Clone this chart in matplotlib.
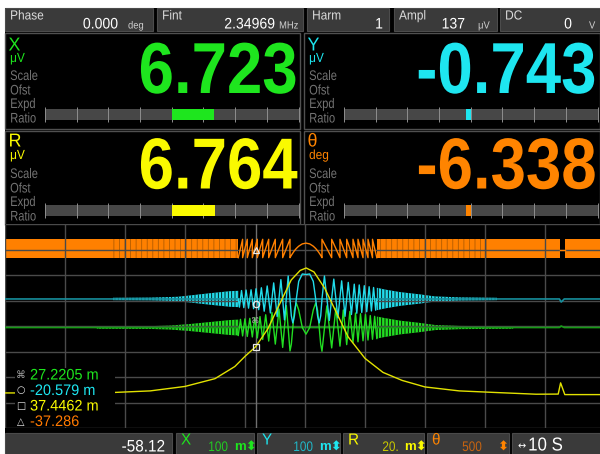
import numpy as np
import matplotlib
matplotlib.use('Agg')
import matplotlib.pyplot as plt
from matplotlib.patches import Rectangle
from matplotlib.patheffects import AbstractPathEffect
from matplotlib.transforms import Affine2D

# ---------------- instrument readings ----------------
header_labels = ['Phase', 'Fint', 'Harm', 'Ampl', 'DC']
header_values = ['0.000', '2.34969', '1', '137', '0']
header_units = ['deg', 'MHz', '', 'μV', 'V']

channel_names = ['X', 'Y', 'R', 'θ']
channel_units = ['μV', 'μV', 'μV', 'deg']
channel_values = [6.723, -0.743, 6.764, -6.338]
bar_fullscale = [20.0, 20.0, 20.0, 180.0]
panel_rows = ['Scale', 'Ofst', 'Expd', 'Ratio']

# strip chart scales (per division) and cursor readouts
trace_scale = [100.0, 100.0, 20.0, 500.0]
trace_scale_text = ['100', '100', '20.', '500']
trace_scale_unit = ['m', 'm', 'm', '']
cursor_time = 41.75
cursor_values = [27.2205, -20.579, 37.4462, -37.286]
cursor_labels = ['27.2205 m', '-20.579 m', '37.4462 m', '-37.286']
left_readout = '-58.12'
time_scale = '10 S'

# R trace, time in s, value in m
r_time = [0, 1.7, 18.3, 24.2, 30.0, 35.0, 38.3, 40.0, 41.75, 43.8, 45.7, 47.7, 49.2, 50.2,
          51.5, 53.3, 55.3, 57.2, 60.0, 63.0, 66.2, 70.0, 75.7, 82.0, 88.5, 92.2, 92.6, 93.3, 100]
r_value = [1.3, 1.3, 1.7, 2.9, 6.4, 12.5, 22.0, 30.0, 37.4, 51.5, 70.3, 89.9, 97.4, 99.3,
           96.2, 83.3, 63.7, 45.2, 28.4, 17.4, 11.1, 6.0, 2.9, 1.6, 0.3, 0.4, 9.2, 0.0, 0.0]

# X and Y: resolvable swings near the resonance (s, m)
x_swings = [(38.88, -31), (39.24, 32), (39.6, -33), (39.99, 34), (40.38, -35), (40.8, 36),
            (41.22, -37), (41.63, 39), (42.05, -41), (42.5, 43), (42.95, -47), (43.45, 50),
            (43.95, -53), (44.5, 59), (45.05, -65), (45.67, 72), (46.28, -78), (46.89, 86),
            (47.5, -92), (47.72, -66), (47.97, 0), (48.23, 67), (48.55, 96), (48.95, 69),
            (49.55, 0), (50.17, -26), (50.78, 0), (51.38, 69), (51.78, 96), (52.1, 67),
            (52.37, 0), (52.62, -66), (52.83, -93), (53.64, 85), (54.45, -80), (55.14, 76),
            (55.83, -73), (56.39, 69), (56.95, -67), (57.48, 63), (58.0, -59), (58.42, 57),
            (58.83, -56), (59.25, 54), (59.67, -52), (60.08, 51), (60.5, -49), (60.88, 47),
            (61.25, -46), (61.61, 44), (61.97, -43)]
y_swings = [(38.88, 0), (39.07, -32), (39.42, 33), (39.8, -34), (40.18, 35), (40.59, -36),
            (41.01, 36), (41.43, -38), (41.84, 40), (42.28, -42), (42.73, 44), (43.2, -48),
            (43.7, 51), (44.23, -55), (44.78, 63), (45.36, -69), (45.98, 76), (46.58, -82),
            (47.2, 90), (47.5, 0), (47.72, -66), (47.97, -94), (48.23, -67), (48.55, 0),
            (48.95, 69), (49.55, 98), (50.17, 96), (50.78, 98), (51.38, 69), (51.78, 0),
            (52.1, -67), (52.37, -94), (52.62, -66), (52.83, 0), (53.24, 90), (54.05, -84),
            (54.8, 78), (55.48, -74), (56.11, 71), (56.67, -68), (57.21, 65), (57.74, -61),
            (58.21, 58), (58.63, -56), (59.04, 55), (59.46, -53), (59.88, 52), (60.29, -50),
            (60.69, 48), (61.07, -47), (61.43, 45), (61.78, -44), (61.97, 0)]

# X and Y: envelope of the unresolved fast swings (s, m half-amplitude)
x_env_left_t = [15.3, 24.2, 27.5, 30.8, 34.2, 37.5, 38.88]
x_env_left = [4.7, 5.5, 7.8, 13.7, 21.6, 29.4, 31.0]
y_env_left_t = [18.0, 24.2, 28.8, 30.8, 34.2, 37.5, 38.88]
y_env_left = [4.7, 5.5, 8.6, 13.7, 22.7, 30.6, 32.0]
x_env_right_t = [61.97, 63.33, 65.83, 69.17, 71.67, 75.83, 84.7]
x_env_right = [43.0, 37.0, 27.0, 18.0, 10.0, 6.3, 4.7]
y_env_right_t = [61.97, 63.33, 65.83, 69.17, 71.67, 75.83, 82.0]
y_env_right = [44.0, 37.0, 27.0, 18.0, 10.0, 6.3, 4.7]

# quiet baseline of X and Y (s, m)
base_time = [0, 92.4, 92.7, 93.2, 100]
x_base = [0, 0, 6, 0, 0]
y_base = [0, 0, -12, 0, 0]

# theta: wrapped phase near resonance (s, deg)
theta_pts = [(38.88, -180), (39.6, 180), (39.6, -180), (40.38, 180), (40.38, -180),
             (41.22, 180), (41.22, -180), (42.05, 180), (42.05, -180), (42.95, 180),
             (42.95, -180), (43.95, 180), (43.95, -180), (45.05, 180), (45.05, -180),
             (46.28, 180), (46.28, -180), (47.5, 180), (47.5, -180), (47.72, -135),
             (47.97, -90), (48.23, -45), (48.55, 0), (48.95, 45), (49.55, 90), (50.17, 105),
             (50.78, 90), (51.38, 45), (51.78, 0), (52.1, -45), (52.37, -90), (52.62, -135),
             (52.83, -180), (52.83, 180), (54.45, -180), (54.45, 180), (55.83, -180),
             (55.83, 180), (56.95, -180), (56.95, 180), (58.0, -180), (58.0, 180),
             (58.83, -180), (58.83, 180), (59.67, -180), (59.67, 180), (60.5, -180),
             (60.5, 180), (61.25, -180), (61.25, 180), (61.97, -180)]
theta_solid_spans = [(0.0, 18.0), (80.3, 92.5), (93.4, 100.0)]
theta_busy_spans = [(18.0, 38.88), (61.97, 80.3)]
theta_gap_time = [92.5, 93.4]
theta_gap_deg = [-30, -30]

# ---------------- style ----------------
GREEN, CYAN, YELLOW, ORANGE = '#1ee61e', '#1ee6f0', '#fafa00', '#ff8400'
colors = [GREEN, CYAN, YELLOW, ORANGE]
trace_colors = ['#22dd22', '#22dcea', '#e2e200', '#ff8000']
dim_colors = ['#179a17', '#168e9c']
SANS = ['Liberation Sans', 'DejaVu Sans']
zero_div = [3.94, 5.06, 1.31, 7.04]
plt.rcParams['hatch.linewidth'] = 0.6


class Squeeze(AbstractPathEffect):
    """Narrow the glyphs horizontally, keeping one edge in place."""

    def __init__(self, sx=0.9, side='left'):
        super().__init__()
        self.sx = sx
        self.side = side

    def draw_path(self, renderer, gc, tpath, affine, rgbFace=None):
        ext = tpath.get_extents(affine)
        x0 = ext.x1 if self.side == 'right' else ext.x0
        squash = Affine2D().translate(-x0, 0).scale(self.sx, 1).translate(x0, 0)
        renderer.draw_path(gc, tpath, affine + squash, rgbFace)


W, H = 600, 454
fig = plt.figure(figsize=(6, 4.54), dpi=100)
fig.patch.set_facecolor('white')

bg = fig.add_axes([0, 0, 1, 1])
bg.set_xlim(0, W)
bg.set_ylim(H, 0)
bg.axis('off')
fg = fig.add_axes([0, 0, 1, 1], zorder=5)
fg.set_xlim(0, W)
fg.set_ylim(H, 0)
fg.axis('off')


def put(x, y, s, size, color, ha='left', sx=0.9, weight='normal', family=SANS, va='baseline'):
    pe = [Squeeze(sx, ha)] if sx != 1 else []
    fg.text(x, y, s, fontsize=size, color=color, ha=ha, va=va, fontweight=weight,
            family=family, path_effects=pe)


def box(ax, x, y, w, h, fc, ec='none', lw=0):
    ax.add_patch(Rectangle((x, y), w, h, facecolor=fc, edgecolor=ec, lw=lw))


# screen
box(bg, 5, 8, 595, 446, 'black')

# header strip
head_cells = [(5, 153), (157, 303), (307, 389), (394, 497), (500, 600)]
head_val_right = [118, 275, 383, 465, 572]
head_unit_left = [128, 279, 0, 478, 589]
for i, (a, b) in enumerate(head_cells):
    box(bg, a, 8, b - a, 23, '#3a3a3a', '#4c4c4c', 0.8)
    put(a + 5, 19.5, header_labels[i], 9.5, '#dcdcdc', sx=0.9)
    put(head_val_right[i], 28.5, header_values[i], 11, 'white', ha='right', sx=0.92)
    if header_units[i]:
        put(head_unit_left[i], 28.5, header_units[i], 7.5, '#d0d0d0', sx=0.9)

# channel panels
panel_left = [5, 304, 5, 304]
panel_top = [33, 33, 131, 131]
panel_w = [295, 296, 295, 296]
panel_h = [96, 96, 94, 94]
name_base = [50.5, 50.5, 146.5, 146.5]
unit_base = [62, 62, 159, 159]
number_base = [93, 93, 188.5, 188.5]
bar_top = [109, 109, 205, 205]
for i in range(4):
    L, T = panel_left[i], panel_top[i]
    box(bg, L, T, panel_w[i], panel_h[i], 'black', '#505050', 1.0)
    put(L + 3.5, name_base[i], channel_names[i], 13.5, colors[i], sx=0.95)
    put(L + 5, unit_base[i], channel_units[i], 9.5, colors[i], sx=0.9)
    for k, row in enumerate(panel_rows):
        put(L + 5, T + [47, 61.5, 75, 89.5][k], row, 10, '#737373', sx=0.8)
    put(L + 293, number_base[i], f'{channel_values[i]:.3f}', 52, colors[i],
        ha='right', sx=0.88, weight='bold')

    # deviation bar
    x0, x1 = L + 40, L + 293.5
    bax = fig.add_axes([x0 / W, (H - bar_top[i] - 11) / H, (x1 - x0) / W, 11 / H], zorder=2)
    fs = bar_fullscale[i]
    bax.set_xlim(-fs, fs)
    bax.set_ylim(0, 1)
    bax.set_facecolor('#474747')
    for s in bax.spines.values():
        s.set_visible(False)
    bax.set_xticks([])
    bax.set_yticks([])
    bax.vlines(np.linspace(-fs, fs, 9), -0.2, 1.2, colors='#8e8e8e', lw=0.7, clip_on=False)
    bax.barh(0.5, channel_values[i], height=1.0, left=0, color=colors[i], zorder=3)

# strip chart
ax = fig.add_axes([5 / W, (H - 428) / H, 600 / W, 204 / H], zorder=2)
ax.set_xlim(0, 100)
ax.set_ylim(0, 8)
ax.set_facecolor('black')
for s in ax.spines.values():
    s.set_visible(False)
ax.set_xticks([])
ax.set_yticks([])
ax.vlines(np.arange(0, 101, 10), 0, 8, colors='#4a4a4a', lw=1)
ax.hlines(np.arange(0, 9), 0, 100, colors='#4a4a4a', lw=1)
ax.axvline(cursor_time, color='#707070', lw=1)


def lev(ch, v):
    return zero_div[ch] + np.asarray(v, float) / trace_scale[ch]


# theta
for a, b in theta_solid_spans:
    ax.fill_between([a, b], lev(3, -180), lev(3, 180), color=trace_colors[3], lw=0)
for a, b in theta_busy_spans:
    ax.fill_between([a, b], lev(3, -180), lev(3, 180), facecolor=trace_colors[3],
                    edgecolor='#b35c00', hatch='|||', lw=0)
th_t, th_v = np.array(theta_pts, float).T
ax.plot(th_t, lev(3, th_v), color=trace_colors[3], lw=1.0)
ax.plot(theta_gap_time, lev(3, theta_gap_deg), color=trace_colors[3], lw=1.0)

# X then Y
for ch, base, swings, envs in [
        (0, x_base, x_swings, [(x_env_left_t, x_env_left), (x_env_right_t, x_env_right)]),
        (1, y_base, y_swings, [(y_env_left_t, y_env_left), (y_env_right_t, y_env_right)])]:
    ax.plot(base_time, lev(ch, base), color=dim_colors[ch], lw=1.2)
    for et, ev in envs:
        ev = np.asarray(ev)
        ax.fill_between(et, lev(ch, -ev), lev(ch, ev), facecolor=trace_colors[ch],
                        edgecolor='black', hatch='|||||', lw=0)
    st, sv = np.array(swings, float).T
    ax.plot(st, lev(ch, sv), color=trace_colors[ch], lw=1.0)

# R
ax.plot(r_time, lev(2, r_value), color=trace_colors[2], lw=1.0)

# cursor markers
ax.text(cursor_time, lev(0, cursor_values[0]), '⌘', fontsize=6, color='#a0a0a0',
        ha='center', va='center', family='DejaVu Sans')
ax.plot(cursor_time, lev(1, cursor_values[1]), 'o', ms=4.5, mfc='none', mec='#e8e8e8', mew=0.9)
ax.plot(cursor_time, lev(2, cursor_values[2]), 's', ms=4.5, mfc='none', mec='#e8e8e8', mew=0.9)
ax.plot(cursor_time, lev(3, cursor_values[3]), '^', ms=4.5, mfc='none', mec='#e8e8e8', mew=0.9)

# cursor readout block
box(fg, 15, 368, 100, 59, 'black')
symbols = ['⌘', '○', '□', '△']
sym_colors = ['#a0a0a0', '#e0e0e0', '#e0e0e0', '#e0e0e0']
read_colors = [GREEN, CYAN, YELLOW, '#ff7a00']
for k in range(4):
    yb = [379.5, 395, 410.5, 426][k]
    fg.text(21, yb - 4.5, symbols[k], fontsize=7, color=sym_colors[k], ha='center',
            va='center', family='DejaVu Sans')
    put(30, yb, cursor_labels[k], 11, read_colors[k], sx=0.95)

# bottom strip
foot_cells = [(5, 172), (176, 254), (257, 340), (343, 424), (427, 509), (512, 600)]
for a, b in foot_cells:
    box(bg, a, 433, b - a, 22, '#3a3a3a', '#4a4a4a', 0.8)
put(165, 451.5, left_readout, 12, 'white', ha='right', sx=0.92)
val_colors = ['#22cc22', '#20b8c8', '#c8c800', '#c86410']
val_right = [52, 56, 56, 55]
unit_left = [58.5, 62.5, 61.5, 70]
for i in range(4):
    a = foot_cells[i + 1][0]
    put(a + 5, 444.5, channel_names[i], 11.5, colors[i], sx=0.95)
    put(a + val_right[i], 451, trace_scale_text[i], 10, val_colors[i], ha='right', sx=0.85)
    fg.text(a + unit_left[i], 451, trace_scale_unit[i] + '⬍', fontsize=9.5, color=colors[i],
            ha='left', va='baseline', fontweight='bold', family=SANS)
fg.text(522, 446, '↔', fontsize=7, color='white', ha='center', va='center',
        family='DejaVu Sans')
put(528, 450.5, time_scale, 13.5, 'white', sx=0.9)

fig.savefig('out.png', dpi=100)
